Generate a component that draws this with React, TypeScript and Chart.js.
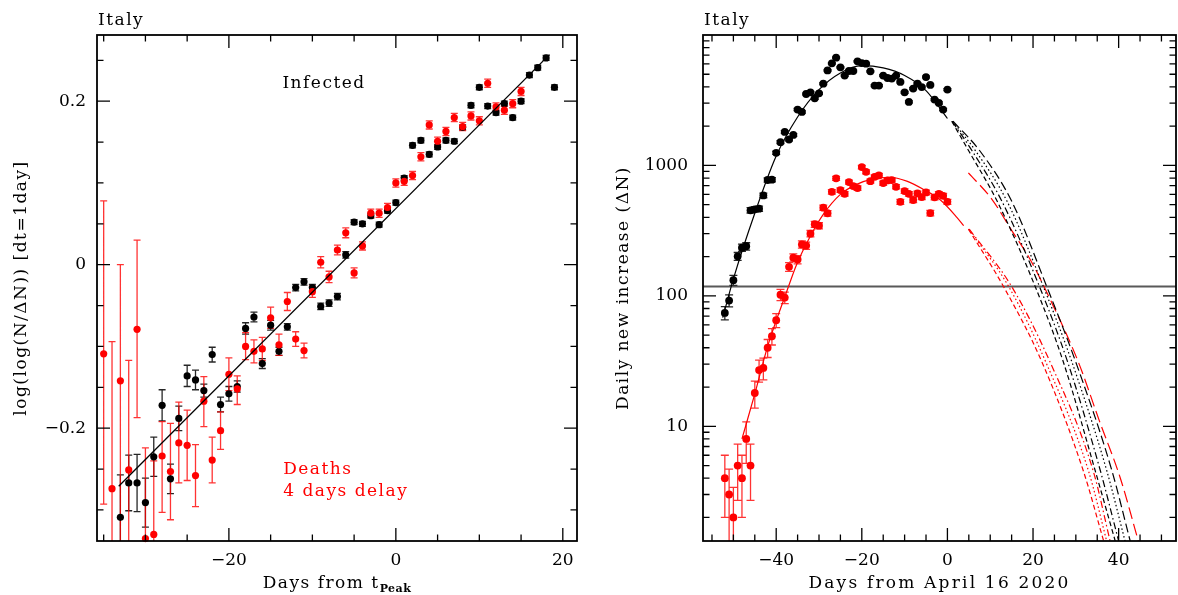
import React, { useEffect, useRef } from "react";
import { Chart, registerables } from "chart.js";

Chart.register(...registerables);

const FONT = "'DejaVu Serif', serif";
const MINUS = "\u2212";

// ---------------- Left panel: log(log(N/ΔN)) vs days from t_peak ----------------
const leftInfDays = [-33, -32, -31, -30, -29, -28, -27, -26, -25, -24, -23, -22, -21, -20, -19, -18, -17, -16, -15, -14, -13, -12, -11, -10, -9, -8, -7, -6, -5, -4, -3, -2, -1, 0, 1, 2, 3, 4, 5, 6, 7, 8, 9, 10, 11, 12, 13, 14, 15, 16, 17, 18, 19];
const leftInfVals = [-0.309, -0.267, -0.267, -0.291, -0.235, -0.172, -0.262, -0.188, -0.136, -0.141, -0.154, -0.11, -0.171, -0.158, -0.149, -0.078, -0.064, -0.121, -0.074, -0.106, -0.076, -0.028, -0.021, -0.028, -0.051, -0.047, -0.039, 0.012, 0.052, 0.05, 0.06, 0.049, 0.066, 0.076, 0.106, 0.146, 0.152, 0.135, 0.144, 0.152, 0.151, 0.168, 0.195, 0.217, 0.194, 0.186, 0.197, 0.18, 0.2, 0.232, 0.241, 0.253, 0.217];
const leftInfErr = [0.052, 0.034, 0.035, 0.03, 0.024, 0.019, 0.018, 0.015, 0.013, 0.012, 0.008, 0.009, 0.009, 0.009, 0.007, 0.007, 0.006, 0.006, 0.006, 0.005, 0.004, 0.004, 0.004, 0.004, 0.004, 0.004, 0.004, 0.004, 0.003, 0.003, 0.003, 0.003, 0.003, 0.003, 0.003, 0.003, 0.003, 0.003, 0.003, 0.003, 0.003, 0.003, 0.003, 0.003, 0.003, 0.003, 0.003, 0.003, 0.003, 0.003, 0.003, 0.003, 0.003];

const leftDeathDays = [-35, -34, -33, -32, -31, -30, -29, -28, -27, -26, -25, -24, -23, -22, -21, -20, -19, -18, -17, -16, -15, -14, -13, -12, -11, -10, -9, -8, -7, -6, -5, -4, -3, -2, -1, 0, 1, 2, 3, 4, 5, 6, 7, 8, 9, 10, 11, 12, 13, 14, 15];
const leftDeathVals = [-0.109, -0.274, -0.142, -0.251, -0.079, -0.335, -0.33, -0.234, -0.253, -0.218, -0.221, -0.258, -0.167, -0.239, -0.203, -0.134, -0.152, -0.1, -0.106, -0.103, -0.065, -0.098, -0.045, -0.091, -0.105, -0.033, 0.003, -0.015, 0.018, 0.039, -0.01, 0.023, 0.063, 0.063, 0.07, 0.1, 0.102, 0.109, 0.132, 0.171, 0.151, 0.163, 0.18, 0.169, 0.182, 0.176, 0.222, 0.193, 0.189, 0.197, 0.212];
const leftDeathHi = [0.078, -0.094, 0.0, -0.117, 0.03, -0.224, -0.24, -0.192, -0.194, -0.168, -0.178, -0.22, -0.137, -0.211, -0.18, -0.114, -0.136, -0.083, -0.092, -0.089, -0.052, -0.085, -0.034, -0.082, -0.096, -0.026, 0.01, -0.008, 0.024, 0.045, -0.004, 0.028, 0.068, 0.068, 0.075, 0.105, 0.107, 0.114, 0.137, 0.176, 0.156, 0.168, 0.185, 0.174, 0.187, 0.181, 0.227, 0.198, 0.194, 0.202, 0.217];
const leftDeathLo = [-0.293, -0.45, -0.45, -0.45, -0.187, -0.45, -0.45, -0.303, -0.312, -0.267, -0.264, -0.296, -0.198, -0.267, -0.226, -0.154, -0.171, -0.116, -0.12, -0.117, -0.078, -0.111, -0.056, -0.1, -0.114, -0.04, -0.004, -0.022, 0.012, 0.033, -0.016, 0.018, 0.058, 0.058, 0.065, 0.095, 0.097, 0.104, 0.127, 0.166, 0.146, 0.158, 0.175, 0.164, 0.177, 0.171, 0.217, 0.188, 0.184, 0.192, 0.207];

const leftFitDays = [-33.2, 18.4];
const leftFitVals = [-0.271, 0.257];

const leftXTicks = [-20, 0, 20];
const leftXMinor = [-35, -30, -25, -15, -10, -5, 5, 10, 15];
const leftYTicks = [-0.2, 0, 0.2];
const leftYMinor = [-0.3, -0.25, -0.15, -0.1, -0.05, 0.05, 0.1, 0.15, 0.25];

// ---------------- Right panel: daily new increase vs days from April 16 2020 ----------------
const rightDays = [-52, -51, -50, -49, -48, -47, -46, -45, -44, -43, -42, -41, -40, -39, -38, -37, -36, -35, -34, -33, -32, -31, -30, -29, -28, -27, -26, -25, -24, -23, -22, -21, -20, -19, -18, -17, -16, -15, -14, -13, -12, -11, -10, -9, -8, -7, -6, -5, -4, -3, -2, -1, 0];
const rightInfVals = [74, 92, 132, 201, 234, 240, 453, 461, 466, 589, 773, 777, 1249, 1507, 1807, 1581, 1714, 2682, 2570, 3530, 3637, 3272, 3573, 4238, 5355, 6063, 6702, 5652, 4886, 5297, 5297, 6281, 6096, 6026, 5263, 4093, 4093, 4886, 4680, 4631, 4886, 4368, 3637, 3069, 3882, 4238, 3990, 4761, 4140, 3200, 3013, 2682, 3813];
const rightInfErr = [8.6, 9.6, 11.5, 14, 15, 15.5, 21, 21, 21.6, 24, 28, 28, 35, 39, 42, 40, 41, 52, 51, 59, 60, 57, 60, 65, 73, 78, 82, 75, 70, 73, 73, 79, 78, 78, 73, 64, 64, 70, 68, 68, 70, 66, 60, 55, 62, 65, 63, 69, 64, 57, 55, 52, 62];
const rightDeathVals = [4, 3, 2, 5, 4, 8, 5, 18, 27, 28, 40, 49, 65, 102, 97, 167, 196, 190, 248, 243, 300, 354, 345, 474, 430, 628, 796, 647, 606, 745, 695, 670, 971, 893, 758, 818, 838, 732, 767, 772, 686, 526, 636, 606, 543, 611, 572, 621, 431, 569, 606, 585, 526];
const rightDeathErr = [2, 1.7, 1.4, 2.3, 2, 2.8, 2.3, 4.2, 5.2, 5.3, 6.3, 7, 8, 10, 9.8, 13, 14, 13.8, 15.7, 15.6, 17, 18.8, 18.6, 21.8, 20.7, 25, 28, 25, 24.6, 27, 26, 26, 31, 30, 27.5, 28.6, 29, 27, 27.7, 27.8, 26, 23, 25, 24.6, 23.3, 24.7, 23.9, 24.9, 20.8, 23.9, 24.6, 24.2, 23];

// fitted curves
const infFitDays = [-52.5, -50, -45, -40, -35, -30, -25, -20, -15, -10, -5, 0];
const infFitVals = [68, 135, 430, 1180, 2350, 3810, 5120, 5820, 5590, 4890, 3750, 2290];
const deathFitDays = [-48, -45, -42, -37.5, -35.2, -32, -29, -25, -21.2, -17.3, -13.4, -9.5, -5.6, -1.7, 2.2, 3.8];
const deathFitVals = [8, 17.7, 41, 109, 175, 288, 422, 600, 716, 789, 812, 758, 655, 545, 400, 345];

// projections: black family
const infProjVals = [2182, 1290, 533, 118, 31, 4.6, 1.32];
const infProjDaysA = [1.0, 5.0, 11.6, 20.5, 27.1, 34.5, 39.2];
const infProjDaysB = [1.1, 5.8, 12.7, 21.5, 28.1, 35.7, 40.0];
const infProjDaysC = [1.2, 6.6, 13.9, 22.4, 29.1, 37.2, 41.5];
const infProjDaysD = [1.3, 7.6, 15.0, 23.2, 30.0, 38.4, 42.7];
// projections: red family
const deathProjVals = [325, 118, 31, 4.5, 1.32];
const deathProjDaysA = [4.9, 13.1, 22.1, 31.8, 36.5];
const deathProjDaysB = [5.0, 14.3, 23.0, 33.0, 37.2];
const deathProjDaysC = [5.1, 15.0, 24.0, 34.1, 38.0];
const deathLongDays = [4.9, 10.4, 15, 19.3, 24.0, 30.6, 35.5, 40.4, 44.6];
const deathLongVals = [877, 550, 318, 191, 94, 31, 11, 4.0, 1.32];

const thresholdDays = [-57.1, 53.4];
const thresholdVals = [118, 118];

const rightXTicks = [-40, -20, 0, 20, 40];
const rightXMinor = [-55, -50, -45, -35, -30, -25, -15, -10, -5, 5, 10, 15, 25, 30, 35, 45, 50];
const rightYTicks = [10, 100, 1000];
const rightYMinor = [2, 3, 4, 5, 6, 7, 8, 9, 20, 30, 40, 50, 60, 70, 80, 90, 200, 300, 400, 500, 600, 700, 800, 900, 2000, 3000, 4000, 5000, 6000, 7000, 8000, 9000];

// ---------------- helpers ----------------
const pts = (xs: number[], ys: number[]) => xs.map((x, i) => ({ x, y: ys[i] }));
const fmtNum = (v: number, digits = 0) => {
  if (v === 0) return "0";
  const s = Math.abs(v).toFixed(digits);
  return v < 0 ? MINUS + s : s;
};

type ErrSet = { xs: number[]; lo: number[]; hi: number[]; color: string; cap: number };
type Txt = { text: string; x: number; y: number; color: string; align: CanvasTextAlign };
type PanelCfg = {
  errors: ErrSet[];
  xMajor: number[]; xMinor: number[]; yMajor: number[]; yMinor: number[];
  texts: Txt[];
  topLabel: string;
  yTitle: string; yTitleX: number;
  xTitle: string; xTitleSub?: string; xTitleSpacing: number;
};

function makePanelPlugin(cfg: PanelCfg) {
  return {
    id: "panel",
    beforeDatasetsDraw(chart: any) {
      const { ctx, chartArea: a } = chart;
      const xs = chart.scales.x, ys = chart.scales.y;
      ctx.save();
      ctx.beginPath();
      ctx.rect(a.left, a.top, a.right - a.left, a.bottom - a.top);
      ctx.clip();
      for (const e of cfg.errors) {
        ctx.strokeStyle = e.color;
        ctx.lineWidth = 1.3;
        ctx.beginPath();
        for (let i = 0; i < e.xs.length; i++) {
          const px = xs.getPixelForValue(e.xs[i]);
          const p1 = ys.getPixelForValue(e.lo[i]);
          const p2 = ys.getPixelForValue(e.hi[i]);
          ctx.moveTo(px, p1); ctx.lineTo(px, p2);
          ctx.moveTo(px - e.cap, p1); ctx.lineTo(px + e.cap, p1);
          ctx.moveTo(px - e.cap, p2); ctx.lineTo(px + e.cap, p2);
        }
        ctx.stroke();
      }
      ctx.restore();
    },
    afterDraw(chart: any) {
      const { ctx, chartArea: a } = chart;
      const xs = chart.scales.x, ys = chart.scales.y;
      ctx.save();
      ctx.strokeStyle = "#000";
      ctx.lineWidth = 1.3;
      ctx.beginPath();
      const MAJ = 13, MIN = 6.5;
      const xt = (v: number, len: number) => {
        const p = xs.getPixelForValue(v);
        if (p < a.left - 0.5 || p > a.right + 0.5) return;
        ctx.moveTo(p, a.bottom); ctx.lineTo(p, a.bottom - len);
        ctx.moveTo(p, a.top); ctx.lineTo(p, a.top + len);
      };
      const yt = (v: number, len: number) => {
        const p = ys.getPixelForValue(v);
        if (p < a.top - 0.5 || p > a.bottom + 0.5) return;
        ctx.moveTo(a.left, p); ctx.lineTo(a.left + len, p);
        ctx.moveTo(a.right, p); ctx.lineTo(a.right - len, p);
      };
      cfg.xMajor.forEach((v) => xt(v, MAJ));
      cfg.xMinor.forEach((v) => xt(v, MIN));
      cfg.yMajor.forEach((v) => yt(v, MAJ));
      cfg.yMinor.forEach((v) => yt(v, MIN));
      ctx.stroke();
      ctx.lineWidth = 1.8;
      ctx.strokeRect(a.left, a.top, a.right - a.left, a.bottom - a.top);

      // annotations
      ctx.font = `17px ${FONT}`;
      (ctx as any).letterSpacing = "1.5px";
      ctx.textBaseline = "middle";
      for (const t of cfg.texts) {
        ctx.fillStyle = t.color;
        ctx.textAlign = t.align;
        ctx.fillText(t.text, xs.getPixelForValue(t.x), ys.getPixelForValue(t.y));
      }
      // top label
      ctx.fillStyle = "#000";
      ctx.textAlign = "left";
      ctx.textBaseline = "alphabetic";
      ctx.fillText(cfg.topLabel, a.left + 1, a.top - 10);

      // x title
      const cx = (a.left + a.right) / 2;
      const by = 588;
      const sp = `${cfg.xTitleSpacing}px`;
      ctx.font = `17px ${FONT}`;
      (ctx as any).letterSpacing = sp;
      const w1 = ctx.measureText(cfg.xTitle).width;
      let w2 = 0;
      if (cfg.xTitleSub) {
        ctx.font = `bold 11px ${FONT}`;
        (ctx as any).letterSpacing = "0.5px";
        w2 = ctx.measureText(cfg.xTitleSub).width;
      }
      const x0 = cx - (w1 + w2) / 2;
      ctx.font = `17px ${FONT}`;
      (ctx as any).letterSpacing = sp;
      ctx.fillText(cfg.xTitle, x0, by);
      if (cfg.xTitleSub) {
        ctx.font = `bold 11px ${FONT}`;
        (ctx as any).letterSpacing = "0.5px";
        ctx.fillText(cfg.xTitleSub, x0 + w1, by + 4);
      }
      // y title
      ctx.font = `17px ${FONT}`;
      (ctx as any).letterSpacing = "1.5px";
      ctx.save();
      ctx.translate(cfg.yTitleX, (a.top + a.bottom) / 2);
      ctx.rotate(-Math.PI / 2);
      ctx.textAlign = "center";
      ctx.textBaseline = "middle";
      ctx.fillText(cfg.yTitle, 0, 0);
      ctx.restore();
      ctx.restore();
    },
  };
}

const tickFont = { family: FONT, size: 17 };

function leftConfig(): any {
  return {
    type: "scatter",
    data: {
      datasets: [
        { data: pts(leftFitDays, leftFitVals), showLine: true, borderColor: "#000", borderWidth: 1.3, pointRadius: 0, order: 0 },
        { data: pts(leftDeathDays, leftDeathVals), backgroundColor: "#ff0000", borderWidth: 0, pointRadius: 3.6, order: 1, clip: false },
        { data: pts(leftInfDays, leftInfVals), backgroundColor: "#000", borderWidth: 0, pointRadius: 3.6, order: 2, clip: false },
      ],
    },
    options: {
      animation: false,
      responsive: false,
      layout: { padding: { top: 35, right: 12, left: 0, bottom: 0 }, autoPadding: false },
      plugins: { legend: { display: false }, tooltip: { enabled: false } },
      scales: {
        x: {
          type: "linear", min: -35.8, max: 21.7,
          grid: { display: false, drawTicks: false }, border: { display: false },
          ticks: { font: tickFont, color: "#000", padding: 9, maxRotation: 0, autoSkip: false, callback: (v: number) => fmtNum(v) },
          afterBuildTicks: (s: any) => { s.ticks = leftXTicks.map((v) => ({ value: v })); },
          afterFit: (s: any) => { s.height = 54; },
        },
        y: {
          type: "linear", min: -0.338, max: 0.281,
          grid: { display: false, drawTicks: false }, border: { display: false },
          ticks: { font: tickFont, color: "#000", padding: 11, autoSkip: false, callback: (v: number) => fmtNum(v, 1) },
          afterBuildTicks: (s: any) => { s.ticks = leftYTicks.map((v) => ({ value: v })); },
          afterFit: (s: any) => { s.width = 97; },
        },
      },
    },
    plugins: [
      makePanelPlugin({
        errors: [
          { xs: leftInfDays, lo: leftInfVals.map((v, i) => v - leftInfErr[i]), hi: leftInfVals.map((v, i) => v + leftInfErr[i]), color: "rgba(0,0,0,0.85)", cap: 3.5 },
          { xs: leftDeathDays, lo: leftDeathLo, hi: leftDeathHi, color: "rgba(255,0,0,0.8)", cap: 3.5 },
        ],
        xMajor: leftXTicks, xMinor: leftXMinor, yMajor: leftYTicks, yMinor: leftYMinor,
        texts: [
          { text: "Infected", x: -8.6, y: 0.222, color: "#000", align: "center" },
          { text: "Deaths", x: -13.5, y: -0.251, color: "#ff0000", align: "left" },
          { text: "4 days delay", x: -13.5, y: -0.277, color: "#ff0000", align: "left" },
        ],
        topLabel: "Italy",
        yTitle: "log(log(N/\u0394N)) [dt=1day]", yTitleX: 22,
        xTitle: "Days from t", xTitleSub: "Peak", xTitleSpacing: 1.5,
      }),
    ],
  };
}

function rightConfig(): any {
  const line = (xs: number[], ys: number[], color: string, dash: number[], order = 0, width = 1.2) => ({
    data: pts(xs, ys), showLine: true, borderColor: color, borderWidth: width, borderDash: dash,
    pointRadius: 0, cubicInterpolationMode: "monotone", order,
  });
  return {
    type: "scatter",
    data: {
      datasets: [
        line(thresholdDays, thresholdVals, "rgba(60,60,60,0.85)", [], 5, 2),
        line(infFitDays, infFitVals, "#000", []),
        line(deathFitDays, deathFitVals, "#ff0000", []),
        line(infProjDaysA, infProjVals, "#000", [5, 3]),
        line(infProjDaysB, infProjVals, "#000", [7, 3, 1.5, 3]),
        line(infProjDaysC, infProjVals, "#000", [1.5, 2.5]),
        line(infProjDaysD, infProjVals, "#000", [9, 4]),
        line(deathProjDaysA, deathProjVals, "#ff0000", [5, 3]),
        line(deathProjDaysB, deathProjVals, "#ff0000", [1.5, 2.5]),
        line(deathProjDaysC, deathProjVals, "#ff0000", [7, 3, 1.5, 3]),
        line(deathLongDays, deathLongVals, "#ff0000", [12, 5]),
        { data: pts(rightDays, rightDeathVals), backgroundColor: "#ff0000", borderWidth: 0, pointRadius: 3.9, order: 2, clip: false },
        { data: pts(rightDays, rightInfVals), backgroundColor: "#000", borderWidth: 0, pointRadius: 3.9, order: 3, clip: false },
      ],
    },
    options: {
      animation: false,
      responsive: false,
      layout: { padding: { top: 35, right: 2, left: 0, bottom: 0 }, autoPadding: false },
      plugins: { legend: { display: false }, tooltip: { enabled: false } },
      scales: {
        x: {
          type: "linear", min: -57.1, max: 53.4,
          grid: { display: false, drawTicks: false }, border: { display: false },
          ticks: { font: tickFont, color: "#000", padding: 9, maxRotation: 0, autoSkip: false, callback: (v: number) => fmtNum(v) },
          afterBuildTicks: (s: any) => { s.ticks = rightXTicks.map((v) => ({ value: v })); },
          afterFit: (s: any) => { s.height = 54; },
        },
        y: {
          type: "logarithmic", min: 1.32, max: 10000,
          grid: { display: false, drawTicks: false }, border: { display: false },
          ticks: { font: tickFont, color: "#000", padding: 15, autoSkip: false, callback: (v: number) => String(v) },
          afterBuildTicks: (s: any) => { s.ticks = rightYTicks.map((v) => ({ value: v })); },
          afterFit: (s: any) => { s.width = 114; },
        },
      },
    },
    plugins: [
      makePanelPlugin({
        errors: [
          { xs: rightDays, lo: rightInfVals.map((v, i) => v - rightInfErr[i]), hi: rightInfVals.map((v, i) => v + rightInfErr[i]), color: "rgba(0,0,0,0.85)", cap: 4 },
          { xs: rightDays, lo: rightDeathVals.map((v, i) => v - rightDeathErr[i]), hi: rightDeathVals.map((v, i) => v + rightDeathErr[i]), color: "rgba(255,0,0,0.8)", cap: 4 },
        ],
        xMajor: rightXTicks, xMinor: rightXMinor, yMajor: rightYTicks, yMinor: rightYMinor,
        texts: [],
        topLabel: "Italy",
        yTitle: "Daily new increase (\u0394N)", yTitleX: 35,
        xTitle: "Days from April 16 2020", xTitleSpacing: 2.2,
      }),
    ],
  };
}

export default function App() {
  const lRef = useRef<HTMLCanvasElement>(null);
  const rRef = useRef<HTMLCanvasElement>(null);
  useEffect(() => {
    const c1 = new Chart(lRef.current as HTMLCanvasElement, leftConfig());
    const c2 = new Chart(rRef.current as HTMLCanvasElement, rightConfig());
    return () => {
      c1.destroy();
      c2.destroy();
    };
  }, []);
  return (
    <div style={{ position: "absolute", left: 0, top: 0, width: 1178, height: 595, background: "#fff" }}>
      <canvas ref={lRef} width={589} height={595} style={{ position: "absolute", left: 0, top: 0, width: 589, height: 595 }} />
      <canvas ref={rRef} width={589} height={595} style={{ position: "absolute", left: 589, top: 0, width: 589, height: 595 }} />
    </div>
  );
}
